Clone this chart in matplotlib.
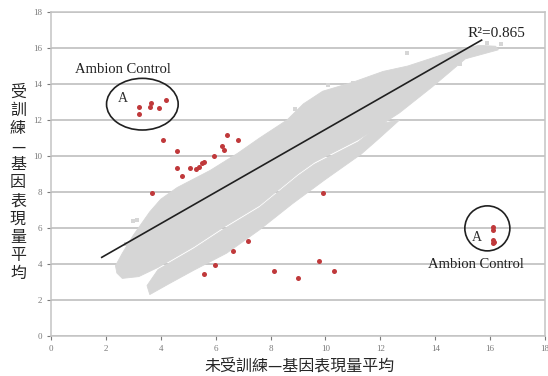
import matplotlib
matplotlib.use("Agg")
import matplotlib.pyplot as plt
from matplotlib.patches import Ellipse, Polygon

# ---- data ----
# gray cloud (thousands of genes) traced as two outlines
upper_band_x = [2.35, 2.6, 3.0, 3.6, 4.0, 4.6, 5.8, 6.8, 7.6, 8.6, 9.2, 9.9, 11.0, 12.1, 13.0, 14.0,
                14.8, 15.6, 16.2,
                16.3, 15.1, 13.9, 12.7, 11.2, 9.6, 9.0, 7.6, 6.3, 5.2, 3.9, 3.2, 2.6, 2.4]
upper_band_y = [3.9, 4.6, 5.6, 6.9, 7.6, 8.25, 9.2, 10.15, 11.0, 12.0, 12.9, 13.6, 14.1, 14.7, 15.0, 15.5,
                15.9, 16.15, 16.1,
                15.9, 15.4, 13.85, 12.4, 10.91, 9.66, 9.01, 7.26, 6.06, 4.96, 3.81, 3.3, 3.2, 3.5]
lower_band_x = [3.6, 4.3, 5.2, 6.4, 7.6, 8.8, 10.0, 11.3, 11.9, 12.7,
                12.0, 11.2, 9.6, 9.0, 7.6, 6.3, 5.2, 3.9, 3.5]
lower_band_y = [2.3, 2.9, 3.65, 4.6, 5.9, 7.35, 8.7, 10.1, 10.9, 12.0,
                11.8, 10.79, 9.54, 8.89, 7.14, 5.94, 4.84, 3.69, 2.8]
stray_x = [3.0, 3.15, 2.75, 12.96, 11.0, 11.6, 8.9, 10.1, 13.6, 7.5, 14.9, 15.9, 16.4]
stray_y = [6.4, 6.45, 5.1, 15.7, 14.05, 14.3, 12.6, 13.95, 14.0, 6.3, 15.1, 16.3, 16.2]

# highlighted genes (red)
red_x = [3.2, 3.22, 3.64, 3.62, 3.95, 4.19,
         4.1, 4.61, 4.58, 4.78, 5.06, 5.29, 5.38, 5.49, 5.56, 5.94, 6.23, 6.3, 6.41, 6.81,
         3.67, 9.9,
         5.59, 5.96, 6.62, 7.19, 8.12, 8.99, 9.77, 10.33,
         16.12, 16.12, 16.12, 16.12, 16.15]
red_y = [12.33, 12.7, 12.97, 12.72, 12.68, 13.12,
         10.87, 10.28, 9.31, 8.89, 9.35, 9.3, 9.41, 9.59, 9.67, 10.0, 10.56, 10.33, 11.17, 10.89,
         7.96, 7.96,
         3.43, 3.94, 4.74, 5.26, 3.63, 3.2, 4.15, 3.63,
         6.07, 5.89, 5.33, 5.15, 5.25]

# linear trend line end points
trend_x = [1.85, 15.69]
trend_y = [4.37, 16.44]
r2_text = "R²=0.865"

x_ticks = list(range(0, 19, 2))
y_ticks = list(range(0, 19, 2))

plt.rcParams['font.family'] = ['Liberation Serif', 'Noto Sans CJK TC', 'DejaVu Sans']

fig = plt.figure(figsize=(5.48, 3.76), dpi=100)
ax = fig.add_axes([0.093, 0.1064, 0.9015, 0.8616])

grid_col = '#c4c4c4'
ax.set_xlim(0, 18)
ax.set_ylim(0, 18)
ax.set_xticks(x_ticks)
ax.set_yticks(y_ticks)
ax.yaxis.grid(True, color=grid_col, lw=1.3)
ax.set_axisbelow(True)
for s in ax.spines.values():
    s.set_color(grid_col)
    s.set_linewidth(1.1)
ax.tick_params(labelsize=6.5, colors='#7a7a7a', length=3, width=0.8)

gray = '#d6d6d6'
ax.add_patch(Polygon(list(zip(upper_band_x, upper_band_y)), closed=True,
                     facecolor=gray, edgecolor=gray, lw=0.6, zorder=2))
ax.add_patch(Polygon(list(zip(lower_band_x, lower_band_y)), closed=True,
                     facecolor=gray, edgecolor=gray, lw=0.6, zorder=2))
ax.scatter(stray_x, stray_y, s=8, marker='s', color=gray, lw=0, zorder=2)

ax.plot(trend_x, trend_y, color='#202020', lw=1.2, zorder=3)
ax.scatter(red_x, red_y, s=13, marker='o', color='#c0393b', lw=0, zorder=4)

ax.text(16.25, 16.8, r2_text, fontsize=11, ha='center', va='center', color='#202020')

# Ambion Control call-outs
ax.add_patch(Ellipse((3.33, 12.88), 2.61, 2.87, fill=False, ec='#202020', lw=1.2, zorder=5))
ax.text(2.63, 13.2, 'A', fontsize=10, ha='center', va='center', color='#303030')
ax.text(2.63, 14.8, 'Ambion Control', fontsize=10.5, ha='center', va='center', color='#202020')

ax.add_patch(Ellipse((15.9, 5.98), 1.64, 2.5, fill=False, ec='#202020', lw=1.2, zorder=5))
ax.text(15.5, 5.5, 'A', fontsize=10, ha='center', va='center', color='#303030')
ax.text(15.5, 4.0, 'Ambion Control', fontsize=10.5, ha='center', va='center', color='#202020')

# axis titles
ylab = "受訓練—基因表現量平均"
fig.text(18 / 548, 1 - 183 / 376, "\n".join(ylab), fontsize=11.5, ha='center', va='center',
         linespacing=1.08, family=['Noto Sans CJK TC'], color='#262626')
fig.text(300 / 548, 1 - 366 / 376, "未受訓練—基因表現量平均", fontsize=11.5, ha='center', va='center',
         family=['Noto Sans CJK TC'], color='#262626')

fig.savefig('out.png', dpi=100)
